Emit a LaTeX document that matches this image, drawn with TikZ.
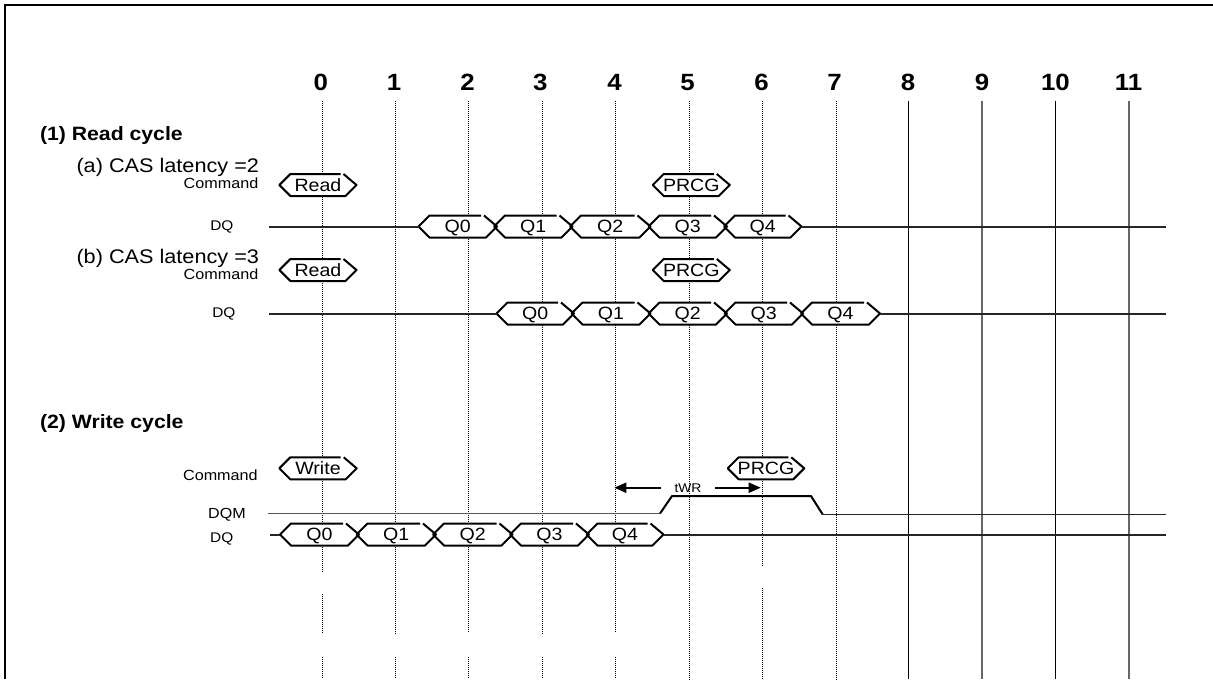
\documentclass[tikz,border=0pt]{standalone}
\usepackage{fontspec}
\setmainfont{Liberation Sans}[FakeStretch=1.1]
\usetikzlibrary{arrows.meta}
% font size given in reference pixels (1px = .75pt)
\newcommand{\pxfont}[1]{\fontsize{\dimexpr#1pt*3/4\relax}{\dimexpr#1pt*9/10\relax}\selectfont}
\tikzset{
  lab/.style={inner sep=0pt,outer sep=0pt,text height=#1*0.54pt,text depth=0pt,font=\pxfont{#1}},
  tick/.style={lab=23.5,font=\pxfont{23.5}\bfseries,anchor=center},
  heading/.style={lab=19.3,font=\pxfont{19.3}\bfseries,anchor=west},
  sublab/.style={lab=19.7,anchor=east},
  sig/.style={lab=14.7,anchor=east},
  hexlab/.style={lab=17.8,anchor=center},
  dotgrid/.style={line width=1pt,dash pattern=on .75pt off .75pt,black},
  solgridA/.style={line width=.85pt,black},
  solgridB/.style={line width=1pt,black!60},
  wire/.style={line width=1.5pt,black!85},
  hexline/.style={line width=1.5pt,black},
  thinw/.style={line width=.85pt,black!65},
  dim/.style={line width=1.5pt,-{Triangle[length=9pt,width=7.5pt]}},
}
% \hexbus{name}{x left tip}{x right tip}{y mid}{text}
\newcommand{\hexbus}[5]{%
  \pgfmathsetmacro{\hT}{#4-11}\pgfmathsetmacro{\hB}{#4+11}%
  \fill[white] (#2+8,\hT) rectangle (#3-8,\hB);
  \coordinate (#1-l) at (#2,#4);
  \coordinate (#1-r) at (#3,#4);
  \draw[hexline,line join=round] (#3-16,\hT) -- (#2+11,\hT) -- (#1-l) -- (#2+11,\hB) -- (#3-11,\hB) -- (#1-r) -- (#3-13,\hT);
  \node[hexlab] (#1) at ({(#2+#3)/2},#4) {#5};
}
\begin{document}
\begin{tikzpicture}[x=.75pt,y=-.75pt]
\useasboundingbox (0,0) rectangle (1213,679);
\fill[white] (0,0) rectangle (1213,679);
% frame
\coordinate (fa) at (5,679); \coordinate (fb) at (5,5); \coordinate (fc) at (1213,5);
\draw[line width=1.5pt,miter limit=10] (fa) -- (fb) -- (fc);

% cycle numbers
\foreach \n/\x in {0/320.7,1/394,2/467.6,3/540.4,4/614.5,5/687.6,6/761.5,7/834.6,8/908,9/982,10/1055.4,11/1128.5}
  \node[tick] (n\n) at (\x,81.7) {\n};

% grid: dotted columns, with the gaps of the reference
\foreach \x/\yend in {395.5/633,468.5/632,542.5/633,615.5/632}{
  \draw[dotgrid] (\x,100.7) -- (\x,\yend);
  \draw[dotgrid] (\x,657) -- (\x,679);
}
\draw[dotgrid] (322.5,100.7) -- (322.5,572);
\draw[dotgrid] (322.5,594) -- (322.5,633);
\draw[dotgrid] (322.5,657) -- (322.5,679);
\draw[dotgrid] (689.5,100.7) -- (689.5,679);
\draw[dotgrid] (762.5,100.7) -- (762.5,566);
\draw[dotgrid] (762.5,588) -- (762.5,679);
\draw[dotgrid] (836.5,100.7) -- (836.5,679);
\draw[solgridA] (908.5,100.7) -- (908.5,679);
\draw[solgridB] (982,100.7) -- (982,679);
\draw[solgridA] (1055.5,100.7) -- (1055.5,679);
\draw[solgridB] (1129,100.7) -- (1129,679);

% texts on the left
\node[heading] (h1) at (40,134) {(1) Read cycle};
\node[sublab] (h1a) at (259,165) {(a) CAS latency =2};
\node[sig] (c1) at (258.3,183) {Command};
\node[lab=14,anchor=east] (d1) at (233.4,225.7) {DQ};
\node[sublab] (h1b) at (259,256.7) {(b) CAS latency =3};
\node[sig] (c2) at (258.3,274.6) {Command};
\node[lab=14,anchor=east] (d2) at (235.4,312.3) {DQ};
\node[heading] (h2) at (40,422) {(2) Write cycle};
\node[sig] (c3) at (257.7,475) {Command};
\node[lab=14.6,anchor=east] (dm) at (245.7,513.3) {DQM};
\node[lab=14,anchor=east] (d3) at (233.3,537.7) {DQ};

% (a) CAS latency 2
\hexbus{ra}{279.4}{356.5}{185}{Read}
\hexbus{pa}{652.8}{729.8}{185}{PRCG}
\hexbus{a0}{418.5}{497}{226.5}{Q0}
\hexbus{a1}{494}{572.5}{226.5}{Q1}
\hexbus{a2}{570}{650.5}{226.5}{Q2}
\hexbus{a3}{648.5}{727}{226.5}{Q3}
\hexbus{a4}{724}{801.5}{226.5}{Q4}
\coordinate (as) at (269,226.5); \coordinate (ae) at (1166,226.5);
\draw[wire] (as) -- (a0-l);
\draw[wire] (a4-r) -- (ae);

% (b) CAS latency 3
\hexbus{rb}{279.4}{356.5}{270}{Read}
\hexbus{pb}{652.8}{729.8}{270}{PRCG}
\hexbus{b0}{496.5}{574}{313.5}{Q0}
\hexbus{b1}{571.5}{650.5}{313.5}{Q1}
\hexbus{b2}{648.5}{727}{313.5}{Q2}
\hexbus{b3}{724.5}{803}{313.5}{Q3}
\hexbus{b4}{801}{880}{313.5}{Q4}
\coordinate (bs) at (269,313.5); \coordinate (be) at (1166,313.5);
\draw[wire] (bs) -- (b0-l);
\draw[wire] (b4-r) -- (be);

% (2) write cycle
\hexbus{wr}{279.3}{356.7}{468.3}{Write}
\hexbus{pc}{727.7}{804.3}{468.3}{PRCG}
\hexbus{w0}{280}{359}{534.5}{Q0}
\hexbus{w1}{356.5}{436}{534.5}{Q1}
\hexbus{w2}{433}{512.5}{534.5}{Q2}
\hexbus{w3}{510}{589}{534.5}{Q3}
\hexbus{w4}{586.5}{663.5}{534.5}{Q4}
\coordinate (ws) at (270,534.5); \coordinate (we) at (1166,534.5);
\draw[wire] (ws) -- (w0-l);
\draw[wire] (w4-r) -- (we);

% DQM
\coordinate (m0) at (268,513.5); \coordinate (m1) at (660,513.5);
\coordinate (m2) at (672,496); \coordinate (m3) at (811,496);
\coordinate (m4) at (822.7,514.5); \coordinate (m5) at (1166,514.5);
\draw[thinw] (m0) -- (m1);
\draw[wire,black,line join=round] (m1) -- (m2) -- (m3) -- (m4);
\draw[line width=.85pt,black!85] (m4) -- (m5);

% tWR
\node[lab=12.6,anchor=center,minimum width=40pt] (twr) at (688,487.7) {tWR};
\coordinate (tl) at (614.3,487.7); \coordinate (tr) at (760.7,487.7);
\draw[dim] (twr.west) -- (tl);
\draw[dim] (twr.east) -- (tr);
\end{tikzpicture}
\end{document}
